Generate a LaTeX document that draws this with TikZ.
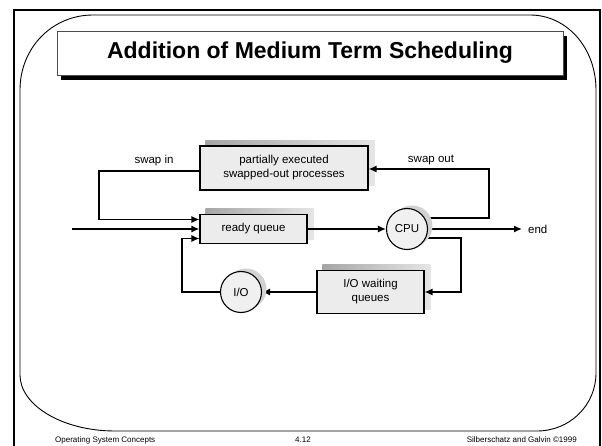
\documentclass[tikz,border=0pt]{standalone}
\usepackage{fontspec}
\setmainfont{Liberation Sans}
\usetikzlibrary{arrows.meta}
\pgfdeclarelayer{bg}
\pgfdeclarelayer{conn}
\pgfdeclarelayer{csh}
\pgfsetlayers{bg,conn,csh,main}
\tikzset{
  qbox/.style={draw=black, line width=1.1pt, fill=gray!15, inner sep=0pt, align=center, font=\fontsize{11.5}{14}\selectfont},
  proc/.style={circle, draw=black, line width=1.1pt, fill=gray!12, minimum size=41pt, inner sep=0pt, font=\fontsize{11.5}{14}\selectfont},
  conn/.style={line width=1.4pt, -{Latex[length=8pt,width=7pt]}},
  lbl/.style={font=\fontsize{11.5}{14}\selectfont, inner sep=0pt},
  foot/.style={font=\fontsize{8}{10}\selectfont, inner sep=0pt},
}
\begin{document}
\begin{tikzpicture}[x=1pt,y=-1pt]
\useasboundingbox (0,0) rectangle (602,446);
% outer frame
\draw[line width=2pt] (14,446) -- (14,10) -- (600,10) -- (600,446);
% rounded frame
\draw[line width=0.9pt] (20,90) .. controls (20,48) and (52,15) .. (93,15) -- (530,15)
  .. controls (567,15) and (596,48) .. (596,90) -- (596,373)
  .. controls (596,405) and (570,431) .. (537,431) -- (115,431)
  .. controls (62,431) and (20,405) .. (20,375) -- cycle;
% title
\fill[black] (61,36) rectangle (567,80);
\node[draw=black!70, line width=0.8pt, fill=white, minimum width=506pt, minimum height=44pt, inner sep=0pt,
  font=\fontsize{23}{27}\selectfont\bfseries] (title) at (310,53) {Addition of Medium Term Scheduling};
% nodes
\node[qbox, minimum width=168pt, minimum height=44pt] (pe) at (284,168) {partially executed\\swapped-out processes};
\node[qbox, minimum width=107pt, minimum height=29pt] (rq) at (253.5,229) {ready queue};
\node[qbox, minimum width=107pt, minimum height=43pt] (iow) at (370.5,292) {I/O waiting\\queues};
\node[proc] (cpu) at (407,229) {CPU};
\node[proc] (io) at (241,292) {I/O};
\coordinate (in) at (72,229);
\coordinate (endpt) at (522,229);
\node[lbl, anchor=west] (endlbl) at (528,229) {end};
\node[lbl] (swapin) at (154,161) {swap in};
\node[lbl] (swapout) at (431,160) {swap out};
% shadows
\begin{pgfonlayer}{bg}
\foreach \n in {pe,rq,iow}{
  \shade[left color=gray!70, right color=gray!20] ([shift={(6,-5)}]\n.south west) rectangle ([shift={(6,-5)}]\n.north east);
}
\end{pgfonlayer}
\begin{pgfonlayer}{csh}
\foreach \n in {cpu,io}{
  \fill[gray!35] ([shift={(5,-3)}]\n.center) circle[radius=20.5pt];
}
\end{pgfonlayer}
% connectors
\begin{pgfonlayer}{conn}
\draw[conn] ([yshift=-3pt]pe.west) -- (99,171) |- ([yshift=9.5pt]rq.west);
\draw[conn] (in) -- (rq.west);
\draw[conn] (io.west) -- (182,292) |- ([yshift=-9.5pt]rq.west);
\draw[conn] (rq.east) -- (cpu.west);
\draw[conn] (cpu.east) -- (endpt);
\draw[conn] ([yshift=11pt]cpu.center) -- (489,218) |- ([yshift=-1pt]pe.east);
\draw[conn] ([yshift=-9pt]cpu.center) -- (461,238) |- (iow.east);
\draw[conn] (iow.west) -- (io.east);
\end{pgfonlayer}
% footer
\node[foot, anchor=west] (f1) at (55,440) {Operating System Concepts};
\node[foot] (f2) at (303,440) {4.12};
\node[foot, anchor=east] (f3) at (577,440) {Silberschatz and Galvin \textcopyright1999};
\end{tikzpicture}
\end{document}
